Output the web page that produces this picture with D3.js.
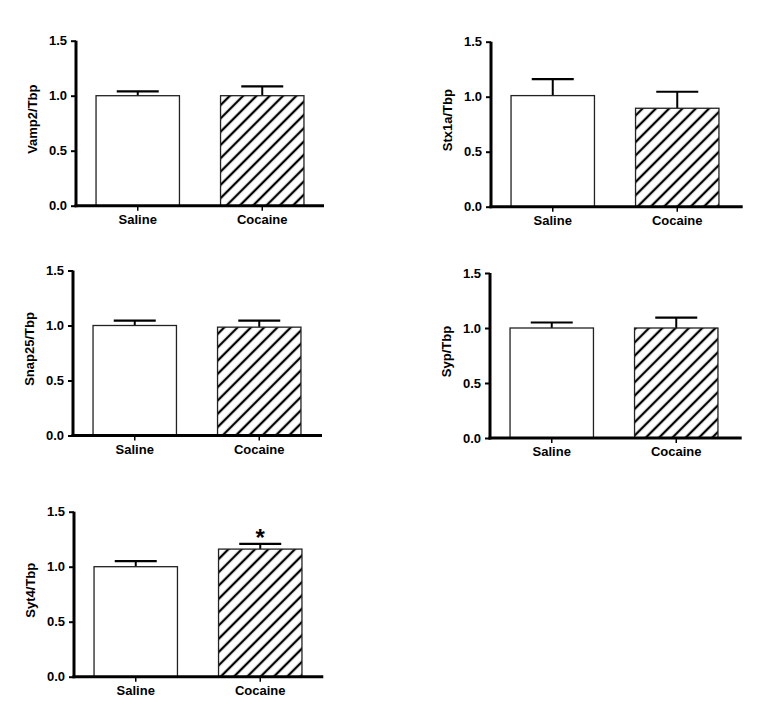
<!DOCTYPE html>
<html>
<head>
<meta charset="utf-8">
<script src="https://cdn.jsdelivr.net/npm/d3@7"></script>
<style>
  html, body { margin: 0; padding: 0; background: #fff; }
  svg { display: block; font-family: Arial, "Liberation Sans", sans-serif; }
</style>
</head>
<body>
<svg id="chart" width="765" height="718"></svg>
<script>
// ---- data ----
const genes = ["Vamp2", "Stx1a", "Snap25", "Syp", "Syt4"];
const groups = ["Saline", "Cocaine"];
const salineMean = [1.00, 1.01, 1.00, 1.00, 1.00];
const salineErr  = [0.04, 0.15, 0.045, 0.05, 0.05];
const cocaineMean = [1.00, 0.895, 0.985, 1.00, 1.16];
const cocaineErr  = [0.085, 0.15, 0.06, 0.095, 0.048];
const significant = [false, false, false, false, true];
const yTicks = [0.0, 0.5, 1.0, 1.5];

// ---- layout (axis origin per panel) ----
const panels = [
  { ax: 76,  y0: 205.7, xEnd: 324 },
  { ax: 491, y0: 206.7, xEnd: 742.7 },
  { ax: 73,  y0: 435.5, xEnd: 322 },
  { ax: 490, y0: 438,   xEnd: 741.7 },
  { ax: 74,  y0: 676.7, xEnd: 323.3 }
];

const FONT = "Arial, 'Liberation Sans', sans-serif";
const svg = d3.select("#chart");
const defs = svg.append("defs");
const pw = 9.4;
const pat = defs.append("pattern")
  .attr("id", "hatch")
  .attr("patternUnits", "userSpaceOnUse")
  .attr("width", pw).attr("height", pw)
  .attr("patternTransform", "rotate(45)");
pat.append("rect").attr("width", pw).attr("height", pw).attr("fill", "#fff");
pat.append("line").attr("x1", pw / 2).attr("y1", -1).attr("x2", pw / 2).attr("y2", pw + 1)
  .attr("stroke", "#000").attr("stroke-width", 2.3);

genes.forEach((g, i) => {
  const p = panels[i];
  const plotH = 165;
  const y = d3.scaleLinear().domain([0, 1.5]).range([p.y0, p.y0 - plotH]);
  const x = d3.scaleBand().domain(groups)
    .range([p.ax, p.ax + 248]).paddingInner(0.33).paddingOuter(0.161);

  const gp = svg.append("g");
  const data = [
    { grp: "Saline", mean: salineMean[i], err: salineErr[i] },
    { grp: "Cocaine", mean: cocaineMean[i], err: cocaineErr[i] }
  ];

  // error bars (upward only)
  const capHalf = 21;
  data.forEach(d => {
    const cx = x(d.grp) + x.bandwidth() / 2;
    gp.append("line").attr("x1", cx).attr("x2", cx)
      .attr("y1", y(d.mean)).attr("y2", y(d.mean + d.err))
      .attr("stroke", "#000").attr("stroke-width", 2);
    gp.append("line").attr("x1", cx - capHalf).attr("x2", cx + capHalf)
      .attr("y1", y(d.mean + d.err)).attr("y2", y(d.mean + d.err))
      .attr("stroke", "#000").attr("stroke-width", 2.2);
  });

  // bars
  gp.selectAll("rect.bar").data(data).enter().append("rect")
    .attr("class", "bar")
    .attr("x", d => x(d.grp))
    .attr("y", d => y(d.mean))
    .attr("width", x.bandwidth())
    .attr("height", d => y(0) - y(d.mean))
    .attr("fill", d => d.grp === "Saline" ? "#fff" : "url(#hatch)")
    .attr("stroke", "#222")
    .attr("stroke-width", 1.3);

  // y axis
  const yAxis = d3.axisLeft(y).tickValues(yTicks).tickFormat(d3.format(".1f"))
    .tickSizeInner(5).tickSizeOuter(0).tickPadding(4);
  const ya = gp.append("g").attr("transform", `translate(${p.ax},0)`).call(yAxis);
  ya.select(".domain").attr("stroke-width", 3).attr("d", `M0,${p.y0 + 1.5}V${p.y0 - plotH}`);
  ya.selectAll(".tick line").attr("stroke-width", 2);
  ya.selectAll(".tick text").attr("font-size", 13).attr("font-weight", "bold")
    .attr("font-family", FONT).attr("fill", "#000");

  // x axis
  const xAxis = d3.axisBottom(x).tickSizeInner(5).tickSizeOuter(0).tickPadding(4);
  const xa = gp.append("g").attr("transform", `translate(0,${p.y0})`).call(xAxis);
  xa.select(".domain").attr("stroke-width", 3).attr("d", `M${p.ax - 1.5},0H${p.xEnd}`);
  xa.selectAll(".tick line").attr("stroke-width", 1.5);
  xa.selectAll(".tick text").attr("font-size", 13).attr("font-weight", "bold")
    .attr("font-family", FONT).attr("fill", "#000");

  // y label
  gp.append("text")
    .attr("transform", `translate(${p.ax - 39},${p.y0 - plotH / 2 - 4}) rotate(-90)`)
    .attr("text-anchor", "middle")
    .attr("font-size", 13).attr("font-weight", "bold")
    .attr("font-family", FONT)
    .text(g + "/Tbp");

  // significance star
  if (significant[i]) {
    const d = data[1];
    gp.append("text")
      .attr("x", x(d.grp) + x.bandwidth() / 2)
      .attr("y", y(d.mean + d.err) + 2)
      .attr("text-anchor", "middle")
      .attr("font-size", 24).attr("font-weight", "bold")
      .attr("font-family", FONT)
      .text("*");
  }
});
</script>
</body>
</html>
